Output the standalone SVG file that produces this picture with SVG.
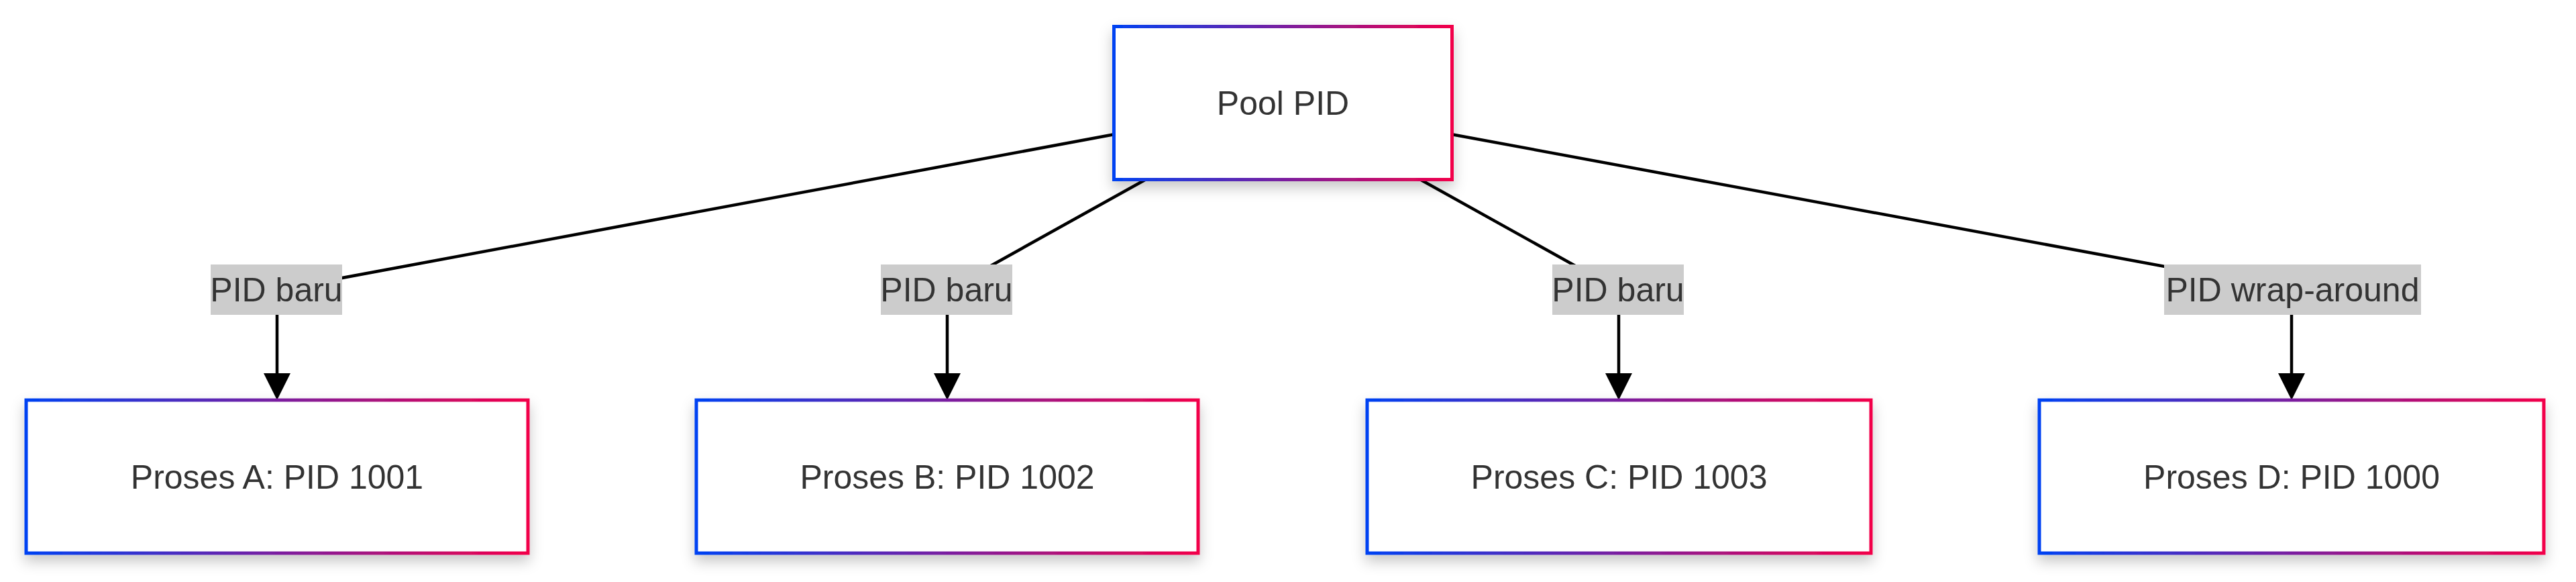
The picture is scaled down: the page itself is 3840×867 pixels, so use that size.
<svg xmlns="http://www.w3.org/2000/svg" width="3840" height="867" viewBox="0 0 3840 867">
  <defs>
    <linearGradient id="borderGrad" x1="0" y1="0" x2="1" y2="0">
      <stop offset="0" stop-color="#0042f2"/>
      <stop offset="0.5" stop-color="#7a1fa0"/>
      <stop offset="1" stop-color="#f2004a"/>
    </linearGradient>
    <filter id="shadow" x="-10%" y="-20%" width="120%" height="150%">
      <feDropShadow dx="0" dy="10" stdDeviation="10" flood-color="#000" flood-opacity="0.22"/>
    </filter>
    <marker id="arrow" viewBox="0 0 40 40" refX="0" refY="20" markerWidth="40" markerHeight="40" markerUnits="userSpaceOnUse" orient="auto">
      <path d="M0,0 L40,20 L0,40 Z" fill="#000"/>
    </marker>
    <style>
      .node rect { fill: #ffffff; stroke: url(#borderGrad); stroke-width: 5; filter: url(#shadow); }
      .node text { font-family: "Liberation Sans", Arial, sans-serif; font-size: 50px; fill: #333333; text-anchor: middle; }
      .edges path { fill: none; stroke: #000; stroke-width: 4.5; }
      .elabel rect { fill: #cccccc; }
      .elabel text { font-family: "Liberation Sans", Arial, sans-serif; font-size: 50px; fill: #333333; text-anchor: middle; }
    </style>
  </defs>
  <rect width="3840" height="867" fill="#ffffff"/>

  <g class="edges" id="connectors">
    <path d="M1660.5,200.3 L413,432 L413,556" marker-end="url(#arrow)"/>
    <path d="M1707.7,267.5 L1412,432 L1412,556" marker-end="url(#arrow)"/>
    <path d="M2117.3,267.5 L2413,432 L2413,556" marker-end="url(#arrow)"/>
    <path d="M2164.5,200.2 L3416,432 L3416,556" marker-end="url(#arrow)"/>
    <g class="elabel" id="label-A">
      <rect x="314" y="394" width="196" height="75"/>
      <text x="412" y="449">PID baru</text>
    </g>
    <g class="elabel" id="label-B">
      <rect x="1313" y="394" width="196" height="75"/>
      <text x="1411" y="449">PID baru</text>
    </g>
    <g class="elabel" id="label-C">
      <rect x="2314" y="394" width="196" height="75"/>
      <text x="2412" y="449">PID baru</text>
    </g>
    <g class="elabel" id="label-D">
      <rect x="3226" y="394" width="383" height="75"/>
      <text x="3417.5" y="449">PID wrap-around</text>
    </g>
  </g>

  <g class="node" id="pool">
    <rect x="1660.5" y="39.5" width="504" height="228"/>
    <text x="1912.5" y="171">Pool PID</text>
  </g>
  <g class="node" id="procA">
    <rect x="39" y="596" width="748" height="228"/>
    <text x="413" y="727.5">Proses A: PID 1001</text>
  </g>
  <g class="node" id="procB">
    <rect x="1038" y="596" width="748" height="228"/>
    <text x="1412" y="727.5">Proses B: PID 1002</text>
  </g>
  <g class="node" id="procC">
    <rect x="2038" y="596" width="751" height="228"/>
    <text x="2413.5" y="727.5">Proses C: PID 1003</text>
  </g>
  <g class="node" id="procD">
    <rect x="3040" y="596" width="752" height="228"/>
    <text x="3416" y="727.5">Proses D: PID 1000</text>
  </g>
</svg>
